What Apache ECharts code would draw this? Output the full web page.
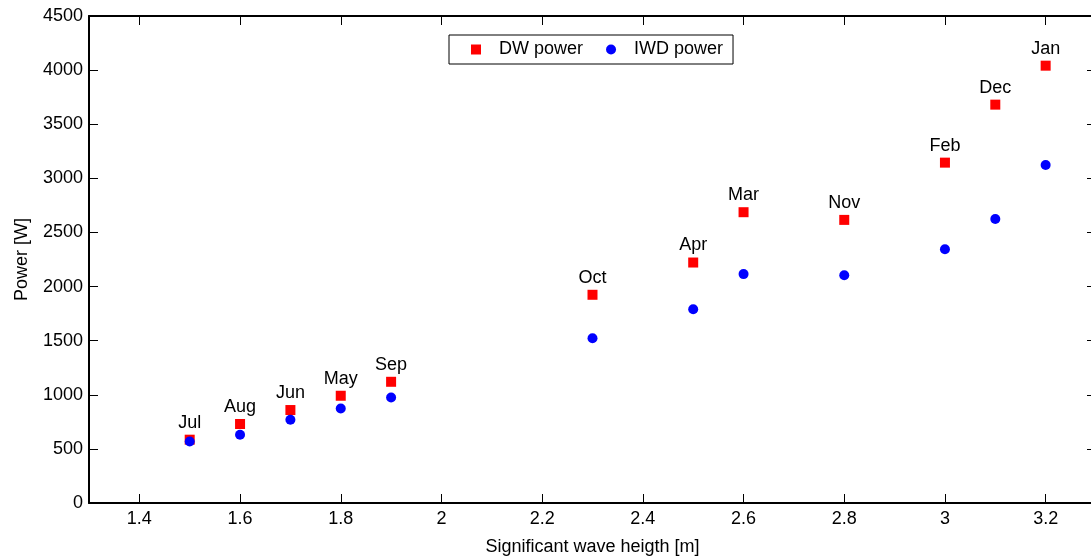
<!DOCTYPE html>
<html>
<head>
<meta charset="utf-8">
<script src="https://cdn.jsdelivr.net/npm/echarts@6/dist/echarts.min.js"></script>
<style>
html,body{margin:0;padding:0;background:#fff;}
#chart{width:1091px;height:558px;}
</style>
</head>
<body>
<div id="chart"></div>
<script>
const months = ['Jul','Aug','Jun','May','Sep','Oct','Apr','Mar','Nov','Feb','Dec','Jan'];
const waveHeight = [1.5,1.6,1.7,1.8,1.9,2.3,2.5,2.6,2.8,3.0,3.1,3.2];
const dwPower = [585,730,859,991,1120,1924,2222,2687,2616,3145,3681,4041];
const iwdPower = [569,631,769,874,975,1523,1791,2115,2105,2345,2625,3124];
const xTicks = [1.4,1.6,1.8,2.0,2.2,2.4,2.6,2.8,3.0,3.2];
const yTicks = [0,500,1000,1500,2000,2500,3000,3500,4000,4500];

const FONT = 'Liberation Sans, Arial, sans-serif';
const FS = 18;
const chart = echarts.init(document.getElementById('chart'), null, {renderer:'canvas'});

const axisLine = {show:true, onZero:false, lineStyle:{color:'#000', width:2}};
const tickStyle = {show:true, inside:true, length:9, lineStyle:{color:'#000', width:1}};

const dwData = waveHeight.map((x,i)=>({value:[x, dwPower[i]], label:{formatter:months[i]}}));
const iwdData = waveHeight.map((x,i)=>[x, iwdPower[i]]);

chart.setOption({
  animation:false,
  backgroundColor:'#fff',
  textStyle:{fontFamily:FONT},
  grid:{left:89, top:16, bottom:55, right:-5, containLabel:false, outerBoundsMode:'none'},
  legend:{
    left:449, top:35,
    orient:'horizontal',
    data:[{name:'DW power', icon:'rect'},{name:'IWD power', icon:'circle'}],
    itemWidth:10, itemHeight:10, itemGap:23,
    padding:[5,10,5,22],
    borderColor:'#000', borderWidth:1, backgroundColor:'#fff',
    itemStyle:{opacity:1},
    textStyle:{fontFamily:FONT, fontSize:FS, color:'#000', padding:[0,0,0,13], lineHeight:19}
  },
  xAxis:[{
    type:'value', position:'bottom', min:1.3, max:3.3,
    axisLine:axisLine,
    axisTick:Object.assign({customValues:xTicks}, tickStyle),
    axisLabel:{customValues:xTicks, color:'#000', fontSize:FS, fontFamily:FONT, margin:7,
      formatter:v=>String(Math.round(v*10)/10)},
    splitLine:{show:false},
    name:'Significant wave heigth [m]', nameLocation:'middle', nameGap:35,
    nameTextStyle:{color:'#000', fontSize:FS, fontFamily:FONT}
  },{
    type:'value', position:'top', min:1.3, max:3.3,
    axisLine:axisLine,
    axisTick:Object.assign({customValues:xTicks}, tickStyle),
    axisLabel:{show:false}, splitLine:{show:false}
  }],
  yAxis:[{
    type:'value', position:'left', min:0, max:4500, interval:500,
    axisLine:axisLine,
    axisTick:Object.assign({customValues:yTicks}, tickStyle),
    axisLabel:{customValues:yTicks, color:'#000', fontSize:FS, fontFamily:FONT, margin:6,
      formatter:v=>String(v)},
    splitLine:{show:false},
    name:'Power [W]', nameLocation:'middle', nameGap:58, nameRotate:90,
    nameTextStyle:{color:'#000', fontSize:FS, fontFamily:FONT}
  },{
    type:'value', position:'right', min:0, max:4500, interval:500,
    axisLine:axisLine,
    axisTick:Object.assign({customValues:yTicks}, tickStyle),
    axisLabel:{show:false}, splitLine:{show:false}
  }],
  series:[{
    name:'DW power', type:'scatter', xAxisIndex:0, yAxisIndex:0,
    symbol:'rect', symbolSize:10,
    itemStyle:{color:'#ff0000', opacity:1},
    label:{show:true, position:'top', distance:3, color:'#000', fontSize:FS, fontFamily:FONT},
    data:dwData, z:2
  },{
    name:'IWD power', type:'scatter', xAxisIndex:0, yAxisIndex:0,
    symbol:'circle', symbolSize:10,
    itemStyle:{color:'#0000ff', opacity:1},
    data:iwdData, z:3
  }]
});
</script>
</body>
</html>
